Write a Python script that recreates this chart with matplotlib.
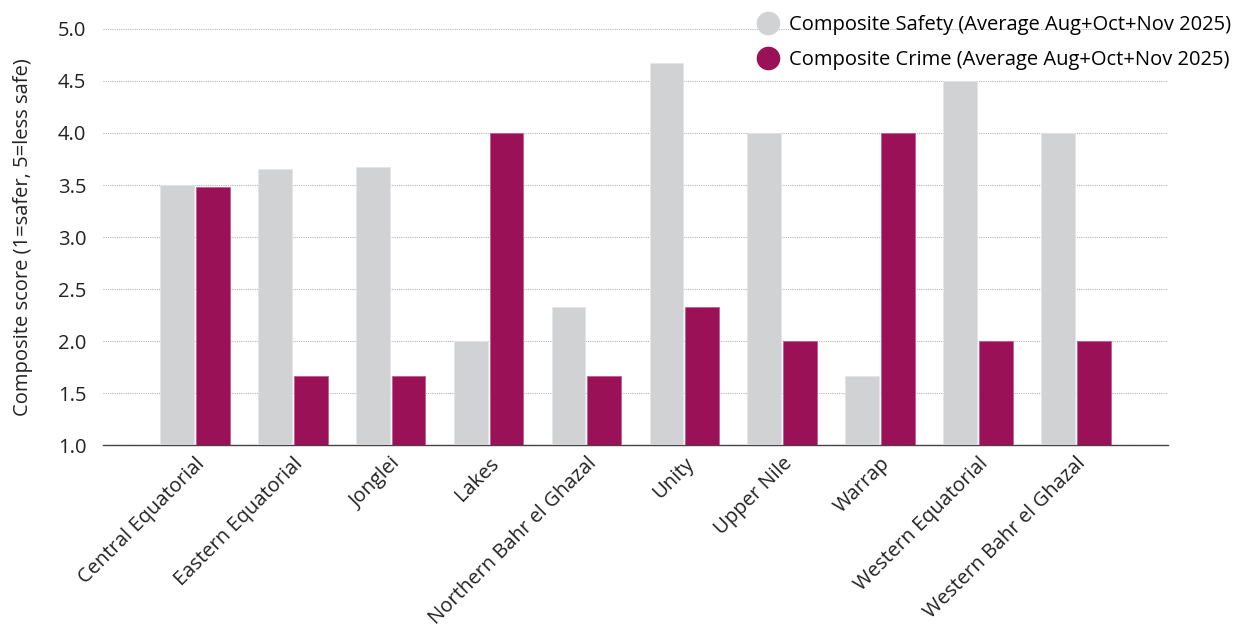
import numpy as np
import matplotlib.pyplot as plt

plt.rcParams['font.family'] = ['Open Sans', 'DejaVu Sans']

states = ['Central Equatorial', 'Eastern Equatorial', 'Jonglei', 'Lakes',
          'Northern Bahr el Ghazal', 'Unity', 'Upper Nile', 'Warrap',
          'Western Equatorial', 'Western Bahr el Ghazal']
safety = [3.5, 3.65, 3.67, 2.0, 2.33, 4.67, 4.0, 1.67, 4.5, 4.0]
crime = [3.48, 1.67, 1.67, 4.0, 1.67, 2.33, 2.0, 4.0, 2.0, 2.0]
yticks = [1.0, 1.5, 2.0, 2.5, 3.0, 3.5, 4.0, 4.5, 5.0]

grey = '#d1d2d4'
plum = '#9b1158'

fig = plt.figure(figsize=(12.41, 6.28), dpi=100)
ax = fig.add_axes([0.083, 0.291, 0.858, 0.663])

x = np.arange(len(states))
w = 0.345
ax.bar(x - w/2 - 0.01, safety, w, color=grey, edgecolor='#e4e5e6', linewidth=0.6, zorder=3)
ax.bar(x + w/2 + 0.01, crime, w, color=plum, edgecolor='#c45d8f', linewidth=0.6, zorder=3)

ax.set_ylim(1.0, 5.0)
ax.set_xlim(-0.94, 9.94)
ax.set_yticks(yticks)
ax.set_yticklabels(['%.1f' % t for t in yticks], fontsize=14.5)
ax.yaxis.grid(True, color='#b5b5b5', linestyle=(0, (1, 1)), linewidth=0.8, zorder=0)
ax.tick_params(axis='y', length=0, pad=12, colors='#222222')
ax.tick_params(axis='x', length=0, pad=6)
ax.set_xticks(x)
ax.set_xticklabels(states, rotation=45, ha='right', rotation_mode='anchor', fontsize=14.5, color='#222222')
for s in ['top', 'right', 'left']:
    ax.spines[s].set_visible(False)
ax.spines['bottom'].set_color('#444444')
ax.spines['bottom'].set_linewidth(1.0)
ax.set_ylabel('Composite score (1=safer, 5=less safe)', fontsize=14.5, color='#222222', labelpad=18)

h1 = plt.Line2D([], [], marker='o', color='none', markerfacecolor=grey, markeredgecolor=grey, markersize=16)
h2 = plt.Line2D([], [], marker='o', color='none', markerfacecolor=plum, markeredgecolor=plum, markersize=16)
fig.legend([h1, h2], ['Composite Safety (Average Aug+Oct+Nov 2025)', 'Composite Crime (Average Aug+Oct+Nov 2025)'],
           loc='upper left', bbox_to_anchor=(0.592, 1.005), frameon=False, fontsize=14.5,
           handletextpad=0.3, labelspacing=0.75, handlelength=1.5)

fig.savefig('out.png', dpi=100)
